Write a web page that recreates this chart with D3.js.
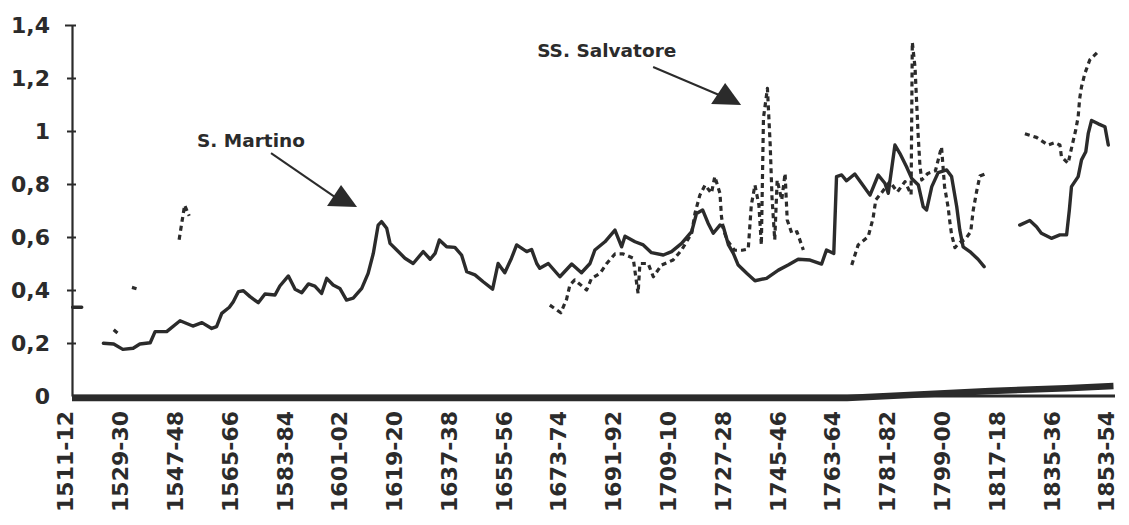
<!DOCTYPE html>
<html>
<head>
<meta charset="utf-8">
<script src="https://cdn.jsdelivr.net/npm/d3@7"></script>
<style>
  html, body { margin: 0; padding: 0; background: #fff; overflow: hidden; }
  svg { display: block; }
  text { font-family: "DejaVu Sans", Verdana, sans-serif; font-weight: bold; fill: #2b2b2b; }
</style>
</head>
<body>
<svg id="chart" width="1129" height="525"></svg>
<script>
// S. Martino series: [year, value]; a null value breaks the line
const martino = [
  [1513.5, 0.335], [1516.5, 0.335], [1520, null],
  [1523.6, 0.199], [1527, 0.196], [1530, 0.176], [1533.4, 0.18], [1535.6, 0.196], [1539, 0.201],
  [1540.6, 0.243], [1544.4, 0.243], [1548.8, 0.284], [1553, 0.264], [1556, 0.277], [1559.2, 0.255],
  [1560.8, 0.262], [1562.5, 0.312], [1565, 0.335], [1566.3, 0.356], [1568, 0.394], [1569.6, 0.397],
  [1571.8, 0.375], [1574.5, 0.352], [1576.7, 0.385], [1580, 0.381], [1581.6, 0.415], [1584.4, 0.453],
  [1586.6, 0.403], [1588.8, 0.39], [1591, 0.423], [1593.1, 0.415], [1595.3, 0.387], [1597, 0.444],
  [1599.1, 0.419], [1601.3, 0.406], [1603.5, 0.362], [1605.7, 0.369], [1608.5, 0.406], [1610.6, 0.463],
  [1612.3, 0.538], [1613.9, 0.645], [1615, 0.658], [1616.7, 0.633], [1617.8, 0.576], [1620, 0.551],
  [1622.7, 0.52], [1625.4, 0.5], [1628.7, 0.545], [1631, 0.516], [1632.6, 0.538], [1634, 0.589],
  [1636.4, 0.563], [1639.1, 0.561], [1641.3, 0.532], [1643, 0.469], [1645.7, 0.457], [1648.4, 0.431],
  [1651.5, 0.403], [1653.3, 0.5], [1655.5, 0.465], [1657.7, 0.52], [1659.4, 0.57], [1662.7, 0.545],
  [1664.3, 0.553], [1666, 0.5], [1667, 0.482], [1669.8, 0.5], [1673.6, 0.45], [1677.5, 0.498],
  [1680.7, 0.465], [1683.5, 0.5], [1685.1, 0.551], [1688.4, 0.582], [1691.7, 0.626], [1693.9, 0.563],
  [1695, 0.603], [1698.3, 0.582], [1701, 0.57], [1703.7, 0.541], [1707.6, 0.532], [1710.3, 0.545],
  [1713.6, 0.576], [1716.9, 0.62], [1718.5, 0.689], [1720.5, 0.702], [1722.3, 0.652], [1724, 0.614],
  [1726.2, 0.645], [1727.3, 0.639], [1729, 0.57], [1730.6, 0.538], [1732.2, 0.494], [1735, 0.463],
  [1737.7, 0.435], [1741.5, 0.444], [1745.4, 0.475], [1748.6, 0.494], [1751.9, 0.516], [1755.8, 0.513],
  [1759.6, 0.498], [1761.2, 0.551], [1763.6, 0.538], [1764.5, 0.828], [1766.2, 0.834], [1767.8, 0.812],
  [1770.5, 0.838], [1772.7, 0.803], [1775.5, 0.758], [1778.2, 0.834], [1780.4, 0.803], [1781.5, 0.765],
  [1783.7, 0.947], [1785.3, 0.916], [1787.5, 0.865], [1789.2, 0.821], [1791.4, 0.796], [1793, 0.714],
  [1794.1, 0.702], [1795.8, 0.79], [1797.9, 0.843], [1800.7, 0.853], [1802.3, 0.828], [1804, 0.714],
  [1805, 0.626], [1806.1, 0.563], [1808.3, 0.545], [1811, 0.516], [1813, 0.488], [1818, null],
  [1824.7, 0.645], [1828, 0.662], [1830.2, 0.639], [1831.8, 0.614], [1835.1, 0.595], [1837.9, 0.608],
  [1840.1, 0.608], [1841, 0.702], [1841.7, 0.79], [1843.9, 0.828], [1845, 0.891], [1846.4, 0.922],
  [1847.2, 0.99], [1848.3, 1.04], [1850.5, 1.027], [1852.7, 1.016], [1853.8, 0.947]
];

// SS. Salvatore series: [year, value]; a null value breaks the line
const salvatore = [
  [1527, 0.25], [1528.5, 0.235], [1530, null],
  [1533, 0.41], [1534.5, 0.405], [1540, null],
  [1548.5, 0.59], [1550.3, 0.72], [1551.8, 0.68], [1560, null],
  [1670.3, 0.343], [1673.9, 0.314], [1675.8, 0.365], [1676.9, 0.419], [1678.5, 0.438], [1682.4, 0.4],
  [1684, 0.444], [1686.8, 0.463], [1689, 0.5], [1691.7, 0.536], [1694.4, 0.536], [1697.7, 0.52],
  [1698.3, 0.469], [1699.3, 0.387], [1699.9, 0.5], [1702.6, 0.5], [1704.3, 0.45], [1707, 0.494],
  [1710.8, 0.513], [1713.6, 0.551], [1716.9, 0.614], [1718, 0.69], [1719.6, 0.758], [1721.3, 0.796],
  [1723.4, 0.765], [1724.5, 0.828], [1726.2, 0.765], [1726.7, 0.677], [1727.3, 0.63], [1728.5, 0.589],
  [1731, 0.55], [1733.5, 0.55], [1735.5, 0.555], [1736.5, 0.72], [1737.7, 0.796], [1739, 0.72],
  [1739.8, 0.57], [1740.5, 1.05], [1741.8, 1.161], [1742.7, 0.95], [1743.3, 0.75], [1744.2, 0.589],
  [1745, 0.815], [1746.5, 0.74], [1747.6, 0.84], [1748.3, 0.664], [1749.8, 0.614], [1751.5, 0.62],
  [1753.6, 0.551], [1760, null],
  [1769.5, 0.494], [1771.6, 0.57], [1774.9, 0.601], [1776.5, 0.67], [1777.4, 0.74], [1779.5, 0.77],
  [1782, 0.809], [1784.5, 0.77], [1787, 0.809], [1789, 0.76], [1789.4, 1.335], [1790.3, 1.24],
  [1790.8, 1.115], [1791.3, 0.99], [1791.9, 0.87], [1792.5, 0.815], [1794.5, 0.84], [1797, 0.85],
  [1799, 0.94], [1800, 0.79], [1801.2, 0.71], [1801.7, 0.66], [1802.3, 0.61], [1803.4, 0.56],
  [1805, 0.58], [1806.7, 0.59], [1808.6, 0.62], [1809.4, 0.7], [1810.5, 0.77], [1811.6, 0.83],
  [1813.8, 0.84], [1820, null],
  [1826.4, 0.99], [1830.2, 0.976], [1834, 0.947], [1836.2, 0.956], [1837.9, 0.947], [1838.4, 0.903],
  [1840.6, 0.878], [1841.7, 0.935], [1843.1, 1.004], [1843.9, 1.054], [1844.4, 1.123], [1845, 1.167],
  [1846.1, 1.217], [1847.7, 1.268], [1850.5, 1.3]
];

// Low series running along the horizontal axis
const lowSeries = [
  [1513.3, 0], [1768, 0], [1790, 0.012], [1815, 0.026], [1840, 0.037], [1855.5, 0.045]
];

const yTicks = [0, 0.2, 0.4, 0.6, 0.8, 1, 1.2, 1.4];
const yTickLabels = ["0", "0,2", "0,4", "0,6", "0,8", "1", "1,2", "1,4"];
const xTickYears = [1511, 1529, 1547, 1565, 1583, 1601, 1619, 1637, 1655, 1673,
                    1691, 1709, 1727, 1745, 1763, 1781, 1799, 1817, 1835, 1853];
const xTickLabels = ["1511-12", "1529-30", "1547-48", "1565-66", "1583-84", "1601-02", "1619-20",
                     "1637-38", "1655-56", "1673-74", "1691-92", "1709-10", "1727-28", "1745-46",
                     "1763-64", "1781-82", "1799-00", "1817-18", "1835-36", "1853-54"];
const seriesNames = ["S. Martino", "SS. Salvatore"];

const ink = "#2b2b2b";
const svg = d3.select("#chart");
const plotLeft = 72, plotRight = 1115, plotTop = 25, plotBottom = 396;

const x = d3.scaleLinear().domain([1513.3, 1856]).range([plotLeft, plotRight]);
const y = d3.scaleLinear().domain([0, 1.4]).range([plotBottom, plotTop]);

// Y axis with cross tick marks
const yAxis = svg.append("g")
  .attr("transform", `translate(${plotLeft},0)`)
  .call(d3.axisLeft(y).tickValues(yTicks).tickFormat((d, i) => yTickLabels[i])
    .tickSizeInner(5).tickSizeOuter(0).tickPadding(17));
yAxis.select(".domain").attr("stroke", ink).attr("stroke-width", 2.2);
yAxis.selectAll(".tick line").attr("stroke", ink).attr("stroke-width", 2)
  .attr("x1", 4).attr("x2", (d) => d === 1.4 ? -7 : -5);
yAxis.selectAll(".tick text").style("font-size", "22px").attr("fill", ink);
yAxis.select(".tick:first-of-type").select("line").remove();

// X axis: rotated category labels
const xAxis = svg.append("g")
  .attr("transform", `translate(0,${plotBottom + 2})`)
  .call(d3.axisBottom(x).tickValues(xTickYears).tickFormat((d, i) => xTickLabels[i])
    .tickSize(0).tickPadding(0));
xAxis.select(".domain").remove();
xAxis.selectAll(".tick text")
  .style("font-size", "22px").attr("fill", ink)
  .attr("transform", "rotate(-90)")
  .attr("x", -13).attr("y", 0).attr("dy", "0.36em")
  .style("text-anchor", "end");

// Horizontal axis line
svg.append("line")
  .attr("x1", plotLeft).attr("x2", plotRight)
  .attr("y1", y(0)).attr("y2", y(0))
  .attr("stroke", ink).attr("stroke-width", 3);

const line = d3.line()
  .defined((d) => d[1] !== null)
  .x((d) => x(d[0]))
  .y((d) => y(d[1]));

// Low series, drawn as a heavy band along the axis
svg.append("path").datum(lowSeries)
  .attr("d", line).attr("fill", "none")
  .attr("stroke", ink).attr("stroke-width", 6.5)
  .attr("transform", "translate(0,2)");

// SS. Salvatore (dotted)
svg.append("path").datum(salvatore)
  .attr("d", line).attr("fill", "none")
  .attr("stroke", ink).attr("stroke-width", 3.2)
  .attr("stroke-dasharray", "5,4")
  .attr("stroke-linejoin", "round");

// S. Martino (solid)
svg.append("path").datum(martino)
  .attr("d", line).attr("fill", "none")
  .attr("stroke", ink).attr("stroke-width", 3.4)
  .attr("stroke-linejoin", "round").attr("stroke-linecap", "round");

// Series labels with arrow pointers
const labels = [
  { name: seriesNames[0], tip: [1601.7, 0.796], text: [-144, -38], from: [-70, -32] },
  { name: seriesNames[1], tip: [1727.9, 1.181], text: [-188, -26], from: [-72, -16] }
];
labels.forEach((a) => {
  const tx = x(a.tip[0]), ty = y(a.tip[1]);
  svg.append("text")
    .attr("x", tx + a.text[0]).attr("y", ty + a.text[1])
    .style("font-size", "18.5px").attr("fill", ink)
    .text(a.name);
  svg.append("line")
    .attr("x1", tx + a.from[0]).attr("y1", ty + a.from[1])
    .attr("x2", tx - 6).attr("y2", ty + 12)
    .attr("stroke", ink).attr("stroke-width", 2);
  svg.append("path")
    .attr("d", `M${tx},${ty} L${tx - 14},${ty + 21} L${tx + 16},${ty + 22} Z`)
    .attr("fill", ink);
});
</script>
</body>
</html>
